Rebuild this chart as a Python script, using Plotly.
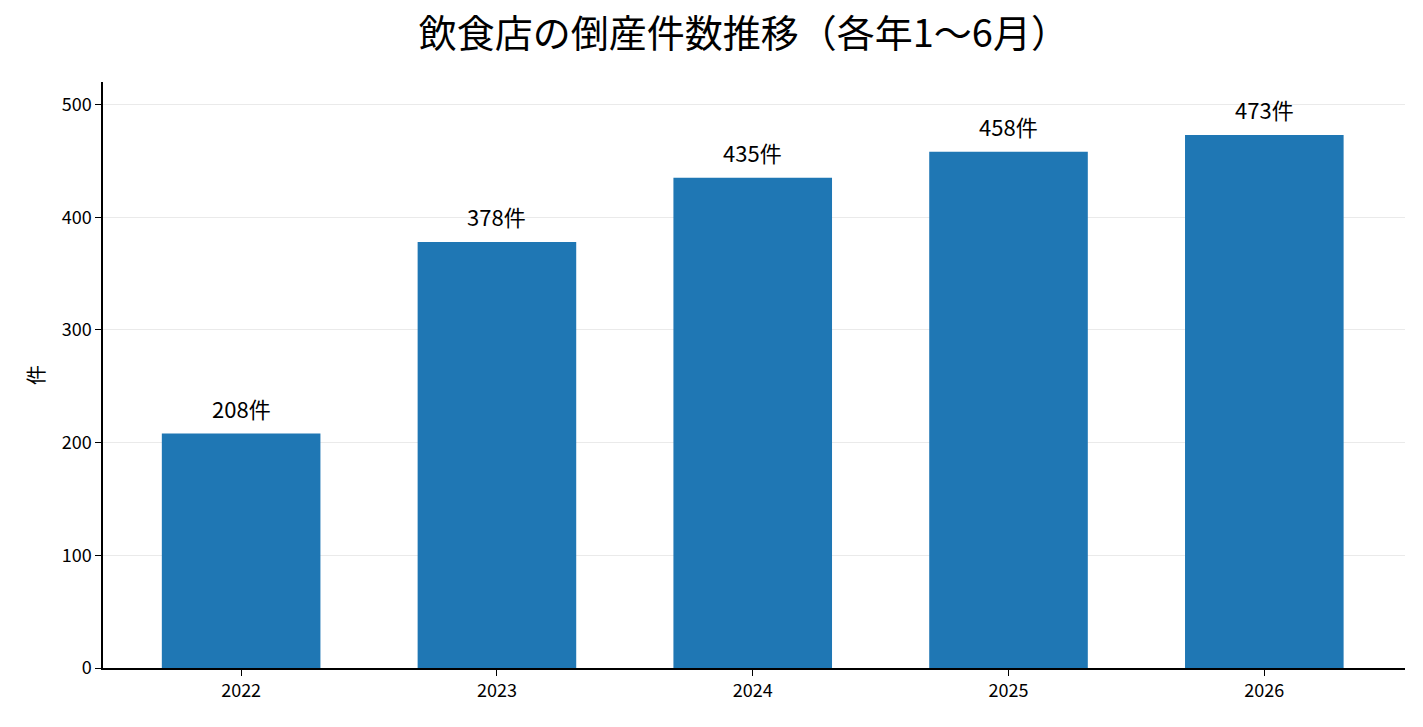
import plotly.graph_objects as go

# 各年1〜6月の倒産件数
years = ["2022", "2023", "2024", "2025", "2026"]
counts = [208, 378, 435, 458, 473]
labels = [f"{c}件" for c in counts]

font_family = "Noto Sans CJK JP"

fig = go.Figure()
fig.add_trace(go.Bar(
    x=years,
    y=counts,
    marker_color="#1f77b4",
    marker_line_width=0,
    width=0.62,
    showlegend=False,
    hovertemplate="%{x}: %{y}件<extra></extra>",
))

# 棒の上の件数ラベル（カテゴリ軸なので位置はインデックスで指定）
for i, (c, lab) in enumerate(zip(counts, labels)):
    fig.add_annotation(
        x=i, y=c, text=lab,
        xref="x", yref="y",
        showarrow=False,
        yanchor="bottom",
        yshift=8,
        font=dict(size=22, color="black", family=font_family),
    )

fig.update_layout(
    title=dict(
        text="飲食店の倒産件数推移（各年1〜6月）",
        x=0.523,
        xanchor="center",
        y=0.964,
        yanchor="middle",
        font=dict(size=38, color="black", family=font_family),
    ),
    width=1407,
    height=711,
    font=dict(family=font_family, color="black", size=18),
    plot_bgcolor="white",
    paper_bgcolor="white",
    margin=dict(l=95, r=10, t=74, b=51),
    xaxis=dict(
        type="category",
        range=[-0.54, 4.55],
        showline=True,
        linecolor="black",
        linewidth=1.5,
        ticks="outside",
        ticklen=6,
        tickcolor="black",
        tickfont=dict(size=18, family=font_family),
        showgrid=False,
    ),
    yaxis=dict(
        range=[0, 520],
        tickvals=[0, 100, 200, 300, 400, 500],
        showline=True,
        linecolor="black",
        linewidth=1.5,
        ticks="outside",
        ticklen=6,
        tickcolor="black",
        tickfont=dict(size=18, family=font_family),
        showgrid=True,
        gridcolor="rgba(220,220,220,0.6)",
        gridwidth=1,
        zeroline=False,
        title=dict(text="件", font=dict(size=20, family=font_family), standoff=12),
    ),
)

fig.write_html("out.html")
